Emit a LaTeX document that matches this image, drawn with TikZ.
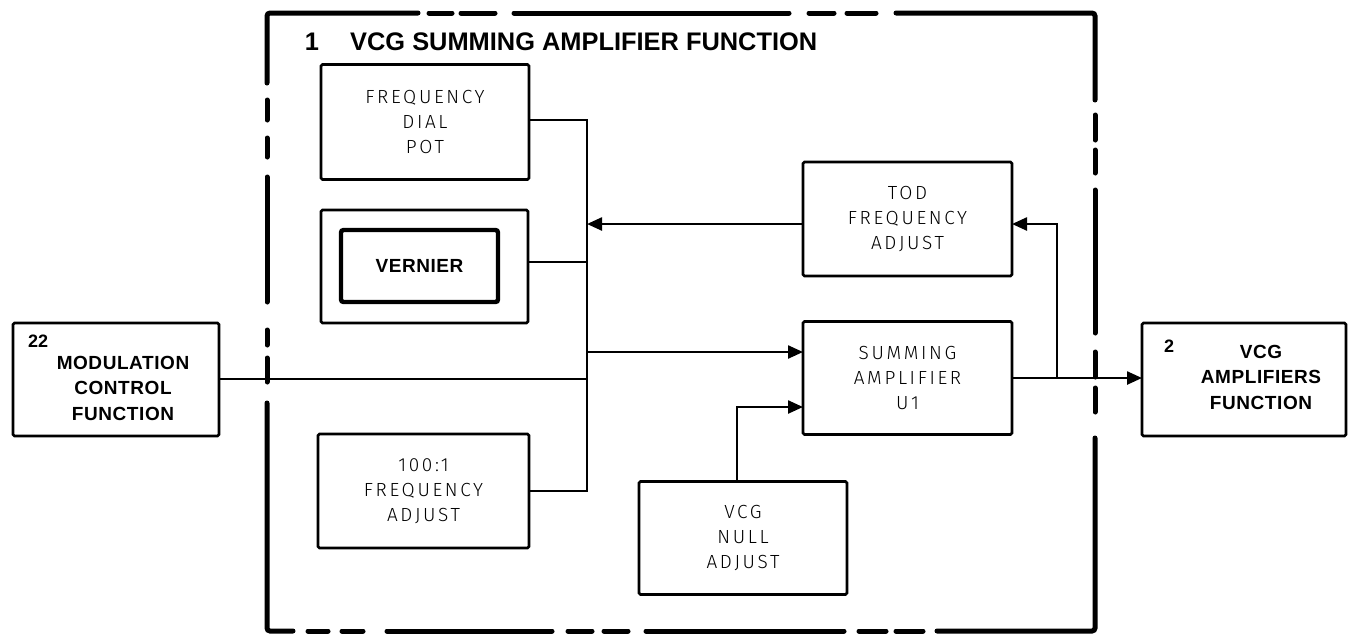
\documentclass[tikz,border=0pt]{standalone}
\usepackage{fontspec}
\setmainfont{Liberation Sans}
\newfontfamily\thinf[UprightFont={* Light},LetterSpace=14]{Fira Sans}
\newfontfamily\boldf[UprightFont={* Bold},LetterSpace=3]{Liberation Sans}
\usetikzlibrary{arrows.meta}
\begin{document}
\begin{tikzpicture}[x=1pt,y=-1pt,
  frame/.style={line width=5pt,line cap=round,rounded corners=3pt},
  blk/.style={draw,line width=2.6pt,rounded corners=1.5pt,outer sep=0pt,inner sep=0pt,align=center,
     font=\thinf\fontsize{19}{25.3}\selectfont},
  btxt/.style={align=center,inner sep=0pt,font=\boldf\fontsize{19}{25.5}\selectfont},
  wire/.style={line width=2.4pt},
  arr/.style={wire,-{Triangle[length=15pt,width=13pt]}},
  lbl/.style={font=\bfseries\fontsize{18}{20}\selectfont,inner sep=0pt}]
\useasboundingbox (0,0) rectangle (1348,633);
% dashed frame
\draw[frame] (267,83) -- (267,13) -- (418,13);
\foreach \a/\b in {429/452,461/495,514/789,809/834,847/876}{\draw[frame] (\a,13) -- (\b,13);}
\draw[frame] (896,13) -- (1095,13) -- (1095,100);
\foreach \a/\b in {115/140,150/173,190/333,352/377,388/412}{\draw[frame] (1095,\a) -- (1095,\b);}
\draw[frame] (1095,438) -- (1095,631) -- (937,631);
\foreach \a/\b in {896/923,859/886,646/844,604/628,568/592,387/552,342/363,308/328}{\draw[frame] (\a,631) -- (\b,631);}
\draw[frame] (293,631) -- (267,631) -- (267,403);
\foreach \a/\b in {358/382,330/345,177/302,138/157,100/120}{\draw[frame] (267,\a) -- (267,\b);}
% title
\node[anchor=base,font=\bfseries\fontsize{25.4}{30}\selectfont,inner sep=0pt] (num1) at (312,50) {1};
\node[anchor=base west,font=\bfseries\fontsize{25.4}{30}\selectfont,inner sep=0pt] (title) at (350,50) {VCG SUMMING AMPLIFIER FUNCTION};
% blocks
\node[blk,minimum width=206pt,minimum height=113pt] (mod) at (116,379.5) {};
\node[btxt] (modt) at (123,388) {MODULATION\\CONTROL\\FUNCTION};
\node[lbl,anchor=base west] (n22) at (28,347) {22};
\node[blk,minimum width=208pt,minimum height=115pt] (fdp) at (425,122) {FREQUENCY\\DIAL\\POT};
\node[blk,minimum width=207pt,minimum height=113pt] (vern) at (424.5,266.5) {};
\node[draw,line width=4.4pt,rounded corners=2.5pt,minimum width=157pt,minimum height=72pt,inner sep=0pt,
      font=\boldf\fontsize{19}{22}\selectfont] (vin) at (419.5,266) {VERNIER};
\node[blk,minimum width=211pt,minimum height=114pt] (hund) at (423.5,491) {100:1\\FREQUENCY\\ADJUST};
\node[blk,minimum width=209pt,minimum height=114pt] (tod) at (907.5,219) {TOD\\FREQUENCY\\ADJUST};
\node[blk,minimum width=209pt,minimum height=113pt] (sum) at (907.5,378) {SUMMING\\AMPLIFIER\\U1};
\node[blk,minimum width=208pt,minimum height=113pt] (null) at (743,538) {VCG\\NULL\\ADJUST};
\node[blk,minimum width=204pt,minimum height=113pt] (amp) at (1244,379.5) {};
\node[btxt] (ampt) at (1261,377) {VCG\\AMPLIFIERS\\FUNCTION};
\node[lbl,anchor=base west] (n2) at (1164,352) {2};
% connectors
\coordinate (bt) at (587,120);
\coordinate (bb) at (587,491);
\coordinate (jT) at (587,224);
\coordinate (jM) at (587,379);
\coordinate (jS) at (587,352);
\coordinate (jN) at (737,407);
\coordinate (jO) at (1057,378);
\draw[wire] (fdp.east |- bt) -- (bt) -- (bb) -- (hund.east |- bb);
\draw[wire] (vern.east |- 0,262) -- (bt |- 0,262);
\draw[arr] (tod.west |- jT) -- (jT);
\draw[arr] (jO) |- (tod.east |- jT);
\draw[wire] (mod.east |- jM) -- (jM);
\draw[arr] (jS) -- (sum.west |- jS);
\draw[arr] (jN |- null.north) -- (jN) -- (sum.west |- jN);
\draw[arr] (sum.east |- jO) -- (amp.west |- jO);
\end{tikzpicture}
\end{document}
